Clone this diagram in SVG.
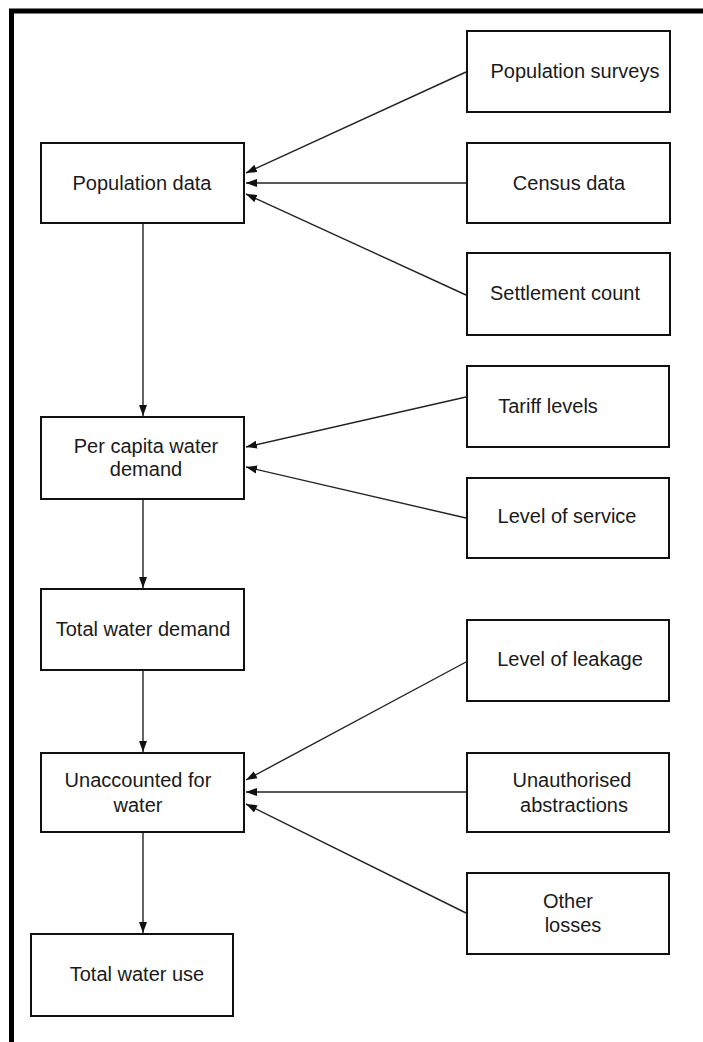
<svg xmlns="http://www.w3.org/2000/svg" width="703" height="1042" viewBox="0 0 703 1042">
<style>
.box{fill:#fff;stroke:#111;stroke-width:2}
.t{font-family:"Liberation Sans",Arial,sans-serif;font-size:20px;fill:#1a1a1a;text-anchor:middle}
.c{stroke:#222;stroke-width:1.4;fill:none;marker-end:url(#ah)}
.frame{stroke:#000;stroke-width:5;fill:none}
</style>
<defs>
<marker id="ah" markerUnits="userSpaceOnUse" markerWidth="12" markerHeight="10" viewBox="0 0 12 10" refX="11" refY="5" orient="auto">
<path d="M0,1 L11,5 L0,9 Z" fill="#111"/>
</marker>
</defs>
<rect width="703" height="1042" fill="#fff"/>
<path class="frame" d="M11.5,1042 V11 H703"/>
<g id="connectors">
<line class="c" x1="466" y1="72" x2="246" y2="173"/>
<line class="c" x1="466" y1="183" x2="246" y2="183"/>
<line class="c" x1="466" y1="295" x2="246" y2="194"/>
<line class="c" x1="143" y1="223" x2="143" y2="416"/>
<line class="c" x1="466" y1="397" x2="246" y2="447"/>
<line class="c" x1="466" y1="518" x2="246" y2="467"/>
<line class="c" x1="143" y1="499" x2="143" y2="588"/>
<line class="c" x1="143" y1="670" x2="143" y2="752"/>
<line class="c" x1="466" y1="662" x2="246" y2="780"/>
<line class="c" x1="466" y1="792" x2="246" y2="792"/>
<line class="c" x1="466" y1="913" x2="246" y2="804"/>
<line class="c" x1="143" y1="832" x2="143" y2="933"/>
</g>
<g id="population-data"><rect class="box" x="41" y="143" width="203" height="80"/><text class="t" x="142" y="190">Population data</text></g>
<g id="per-capita"><rect class="box" x="41" y="417" width="203" height="82"/><text class="t" x="146" y="453">Per capita water</text><text class="t" x="146" y="476">demand</text></g>
<g id="total-demand"><rect class="box" x="41" y="589" width="203" height="81"/><text class="t" x="143" y="636">Total water demand</text></g>
<g id="unaccounted"><rect class="box" x="41" y="753" width="203" height="79"/><text class="t" x="138" y="787">Unaccounted for</text><text class="t" x="138" y="812">water</text></g>
<g id="total-use"><rect class="box" x="31" y="934" width="202" height="82"/><text class="t" x="137" y="981">Total water use</text></g>
<g id="population-surveys"><rect class="box" x="467" y="31" width="203" height="81"/><text class="t" x="575" y="78">Population surveys</text></g>
<g id="census-data"><rect class="box" x="467" y="143" width="203" height="80"/><text class="t" x="569" y="190">Census data</text></g>
<g id="settlement-count"><rect class="box" x="467" y="253" width="203" height="82"/><text class="t" x="565" y="300">Settlement count</text></g>
<g id="tariff-levels"><rect class="box" x="467" y="366" width="202" height="81"/><text class="t" x="548" y="413">Tariff levels</text></g>
<g id="level-of-service"><rect class="box" x="467" y="478" width="202" height="80"/><text class="t" x="567" y="523">Level of service</text></g>
<g id="level-of-leakage"><rect class="box" x="467" y="620" width="202" height="81"/><text class="t" x="570" y="666">Level of leakage</text></g>
<g id="unauthorised"><rect class="box" x="467" y="753" width="202" height="79"/><text class="t" x="572" y="787">Unauthorised</text><text class="t" x="574" y="812">abstractions</text></g>
<g id="other-losses"><rect class="box" x="467" y="873" width="202" height="81"/><text class="t" x="568" y="908">Other</text><text class="t" x="573" y="932">losses</text></g>
</svg>
